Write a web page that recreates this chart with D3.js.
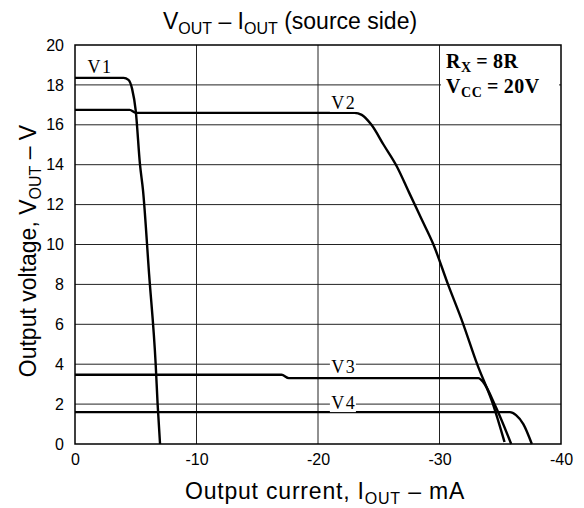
<html>
  <head>
    <meta charset="utf-8">
    <style>
      body { margin: 0; background: #fff; }
      svg text { font-family: "Liberation Sans", Arial, sans-serif; }
      .lbl { font-family: "Liberation Serif", "DejaVu Serif", serif; }
    </style>
  </head>
  <body>
    <div id="chart"></div>
    <script src="https://d3js.org/d3.v7.min.js"></script>
    <script>
      // current (mA) and voltage (V)
      const v1I = [0, -4.0, -4.4, -4.7, -5.0, -5.35, -5.6, -6.1, -6.64, -6.8, -7.0];
      const v1V = [18.35, 18.35, 18.25, 17.8, 16.7, 14.0, 12.7, 8.5, 4.0, 2.0, 0];
      const v2I = [0, -4.5, -5.0, -23.0, -23.6, -24.4, -25.4, -26.5, -27.5, -28.5, -29.5, -30.7, -31.9, -33.1, -34.4, -35.35];
      const v2V = [16.75, 16.75, 16.6, 16.6, 16.5, 16.0, 15.0, 13.9, 12.6, 11.3, 10.0, 8.0, 6.1, 4.0, 2.0, 0.1];
      const v3I = [0, -17.0, -17.6, -33.2, -33.6, -34.6, -35.9];
      const v3V = [3.47, 3.47, 3.3, 3.3, 3.1, 1.9, 0];
      const v4I = [0, -35.8, -36.3, -36.9, -37.6];
      const v4V = [1.6, 1.6, 1.45, 1.0, 0];

      const xTicks = [0, -10, -20, -30, -40];
      const yTicks = [0, 2, 4, 6, 8, 10, 12, 14, 16, 18, 20];
      const curveNames = ["V1", "V2", "V3", "V4"];
      const curveLabelAt = [[-2.0, 18.6], [-22.05, 16.8], [-22.05, 3.56], [-22.05, 1.75]];

      const width = 584, height = 508;
      const svg = d3.select("#chart").append("svg")
        .attr("width", width).attr("height", height);

      const x = d3.scaleLinear().domain([0, -40]).range([75, 561]);
      const y = d3.scaleLinear().domain([0, 20]).range([444, 45]);

      // grid
      svg.append("g").selectAll("line")
        .data(yTicks.slice(1, -1)).enter().append("line")
        .attr("x1", x(0)).attr("x2", x(-40))
        .attr("y1", d => y(d)).attr("y2", d => y(d))
        .attr("stroke", "#222").attr("stroke-width", 1);
      svg.append("g").selectAll("line")
        .data(xTicks.slice(1, -1)).enter().append("line")
        .attr("y1", y(0)).attr("y2", y(20))
        .attr("x1", d => x(d)).attr("x2", d => x(d))
        .attr("stroke", "#222").attr("stroke-width", 1);

      // axes (labels only)
      const xAxis = svg.append("g").attr("transform", "translate(0," + y(0) + ")")
        .call(d3.axisBottom(x).tickValues(xTicks).tickSize(0).tickPadding(6).tickFormat(d => String(d)));
      const yAxis = svg.append("g").attr("transform", "translate(" + x(0) + ",0)")
        .call(d3.axisLeft(y).tickValues(yTicks).tickSize(0).tickPadding(11).tickFormat(d => String(d)));
      [xAxis, yAxis].forEach(a => {
        a.select(".domain").remove();
        a.selectAll("text").attr("font-size", 16).attr("fill", "#000")
          .attr("font-family", "Liberation Sans, Arial, sans-serif");
      });
      xAxis.selectAll("text").attr("dy", "0.95em");

      // curves
      const series = [[v1I, v1V], [v2I, v2V], [v3I, v3V], [v4I, v4V]];
      const line = d3.line().x(d => x(d[0])).y(d => y(d[1])).curve(d3.curveMonotoneX);
      svg.append("g").selectAll("path")
        .data(series).enter().append("path")
        .attr("d", s => line(s[0].map((c, i) => [c, s[1][i]])))
        .attr("fill", "none").attr("stroke", "#000").attr("stroke-width", 2.4)
        .attr("stroke-linejoin", "round");

      // curve labels with white backing
      curveNames.forEach((n, i) => {
        const px = x(curveLabelAt[i][0]), py = y(curveLabelAt[i][1]);
        svg.append("rect").attr("x", px - 13).attr("y", py - 14)
          .attr("width", 26).attr("height", 17).attr("fill", "#fff");
        svg.append("text").attr("class", "lbl").attr("x", px).attr("y", py)
          .attr("text-anchor", "middle").attr("font-size", 18).text(n[0] + "\u200a" + n[1]);
      });

      // frame
      svg.append("rect").attr("x", x(0)).attr("y", y(20))
        .attr("width", x(-40) - x(0)).attr("height", y(0) - y(20))
        .attr("fill", "none").attr("stroke", "#000").attr("stroke-width", 1.5);

      // conditions box
      svg.append("rect").attr("x", 441).attr("y", 48).attr("width", 118).attr("height", 54).attr("fill", "#fff");
      const cond = svg.append("text").attr("class", "lbl").attr("font-weight", "bold")
        .attr("font-size", 20).attr("letter-spacing", 0.6);
      cond.append("tspan").attr("x", 446).attr("y", 68).text("R");
      cond.append("tspan").attr("font-size", 14).attr("dy", 4).text("X");
      cond.append("tspan").attr("dy", -4).text("\u2009=\u20098R");
      const cond2 = svg.append("text").attr("class", "lbl").attr("font-weight", "bold")
        .attr("font-size", 20).attr("letter-spacing", 0.6);
      cond2.append("tspan").attr("x", 446).attr("y", 93).text("V");
      cond2.append("tspan").attr("font-size", 14).attr("dy", 4).text("CC");
      cond2.append("tspan").attr("dy", -4).text("\u2009=\u200920V");

      // title
      const t = svg.append("text").attr("x", 290).attr("y", 29)
        .attr("text-anchor", "middle").attr("font-size", 23);
      t.append("tspan").text("V");
      t.append("tspan").attr("font-size", 16).attr("dy", 5).text("OUT");
      t.append("tspan").attr("dy", -5).text(" \u2013 I");
      t.append("tspan").attr("font-size", 16).attr("dy", 5).text("OUT");
      t.append("tspan").attr("dy", -5).text(" (source side)");

      // x label
      const xl = svg.append("text").attr("x", 325).attr("y", 499)
        .attr("text-anchor", "middle").attr("font-size", 23).attr("letter-spacing", 0.8);
      xl.append("tspan").text("Output current, I");
      xl.append("tspan").attr("font-size", 16).attr("dy", 5).text("OUT");
      xl.append("tspan").attr("dy", -5).text(" \u2013 mA");

      // y label
      const yl = svg.append("text").attr("transform", "translate(36,251) rotate(-90)")
        .attr("text-anchor", "middle").attr("font-size", 23);
      yl.append("tspan").text("Output voltage, V");
      yl.append("tspan").attr("font-size", 16).attr("dy", 5).text("OUT");
      yl.append("tspan").attr("dy", -5).text(" \u2013 V");
    </script>
  </body>
</html>
